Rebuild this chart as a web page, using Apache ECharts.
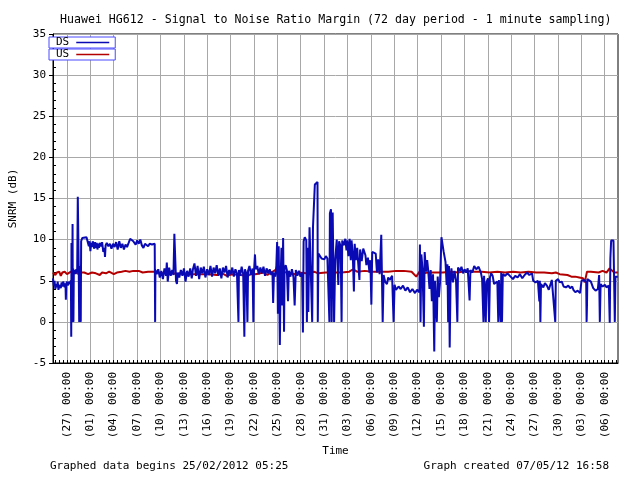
<!DOCTYPE html>
<html>
<head>
<meta charset="utf-8">
<script src="https://cdn.jsdelivr.net/npm/echarts@6/dist/echarts.min.js"></script>
<style>html,body{margin:0;padding:0;background:#fff}#c{width:640px;height:480px}</style>
</head>
<body>
<div id="c"></div>
<script>
// ---- data (day offset from 25/02/2012 05:25, SNRM dB) ----
const titleText = 'Huawei HG612 - Signal to Noise Ratio Margin (72 day period - 1 minute sampling)';
const yTicks = [-5, 0, 5, 10, 15, 20, 25, 30, 35];
const labelTimes = ['2012-02-27 00:00','2012-03-01 00:00','2012-03-04 00:00','2012-03-07 00:00','2012-03-10 00:00','2012-03-13 00:00','2012-03-16 00:00','2012-03-19 00:00','2012-03-22 00:00','2012-03-25 00:00','2012-03-28 00:00','2012-03-31 00:00','2012-04-03 00:00','2012-04-06 00:00','2012-04-09 00:00','2012-04-12 00:00','2012-04-15 00:00','2012-04-18 00:00','2012-04-21 00:00','2012-04-24 00:00','2012-04-27 00:00','2012-04-30 00:00','2012-05-03 00:00','2012-05-06 00:00'];

const dsPoints = [
[0.0,5.3],[0.1,4.4],[0.2,5.0],[0.3,4.0],[0.4,4.6],[0.5,4.2],[0.6,4.9],[0.7,3.9],[0.8,4.5],[0.9,4.7],[1.0,4.1],[1.1,4.8],[1.2,4.3],[1.3,4.9],[1.4,4.6],[1.5,4.2],[1.6,4.7],[1.65,2.7],[1.7,4.6],[1.8,4.9],[1.9,4.4],[2.0,4.9],[2.1,4.6],[2.2,4.8],[2.3,5.0],
[2.34,-1.8],[2.37,9.6],[2.42,5.5],[2.46,0],[2.51,11.9],[2.55,0],[2.58,6.5],[2.62,0],[2.67,6.0],[2.8,6.3],[2.9,5.8],[3.0,6.4],[3.1,6.0],[3.18,15.2],[3.24,15.2],[3.3,6.6],[3.36,0],[3.42,6.8],[3.5,6.3],[3.56,0],[3.61,9.8],
[3.75,10.2],[4.0,10.2],[4.3,10.3],[4.52,10.2],[4.6,9.2],[4.7,9.8],[4.8,8.6],[4.9,9.6],[5.0,9.1],[5.1,9.8],[5.2,9.3],[5.3,8.9],[5.4,9.7],[5.5,9.0],[5.6,9.6],[5.7,8.8],[5.8,9.5],[5.9,9.0],[6.0,9.6],[6.2,9.2],[6.3,9.7],[6.45,8.5],[6.6,9.0],[6.67,7.9],[6.75,9.3],[6.9,9.6],[7.1,9.2],[7.3,9.5],[7.5,8.9],[7.7,9.5],[7.9,9.1],[8.1,9.7],[8.3,8.8],[8.5,9.8],[8.7,9.0],[8.9,9.5],[9.1,8.8],[9.3,9.4],[9.5,9.1],[9.7,9.6],[9.9,10.1],[10.1,10.2],[10.3,9.8],[10.5,10.0],[10.6,9.4],[10.8,9.9],[11.0,9.5],[11.2,10.0],[11.4,9.3],[11.6,9.0],[11.8,9.5],[12.0,9.7],[12.2,9.2],[12.4,9.5],[12.7,9.4],[12.9,9.6],[13.05,9.5],[13.1,0],[13.14,6.3],
[13.3,5.8],[13.5,6.4],[13.7,5.4],[13.9,6.2],[14.1,5.2],[14.3,6.5],[14.5,5.6],[14.6,7.2],[14.72,4.9],[14.9,6.6],[15.1,5.6],[15.3,6.3],[15.45,5.7],[15.57,10.7],[15.68,10.7],[15.78,5.0],[15.9,4.6],[16.0,6.0],[16.2,5.4],[16.4,6.3],[16.6,5.6],[16.8,6.5],[17.0,4.9],[17.2,6.2],[17.4,5.5],[17.6,6.5],[17.8,5.3],[17.95,6.4],
[18.15,7.1],[18.35,5.6],[18.55,6.8],[18.75,5.2],[18.95,6.6],[19.15,5.9],[19.35,6.7],[19.55,5.4],[19.77,6.4],[20.0,5.7],[20.2,6.8],[20.4,5.5],[20.6,6.6],[20.8,5.9],[21.0,6.9],[21.2,5.6],[21.4,6.5],[21.6,5.3],[21.8,6.6],[22.0,6.0],[22.2,6.8],[22.4,5.4],[22.6,6.3],[22.8,5.8],[23.0,6.6],[23.2,5.5],[23.4,6.4],[23.6,5.9],[23.79,0],[23.85,6.3],[24.0,5.6],[24.2,6.7],[24.4,5.8],[24.55,-1.8],[24.62,6.4],[24.8,5.9],[24.94,0],[25.02,6.2],[25.2,6.8],[25.4,5.7],[25.6,6.5],[25.7,0],[25.78,6.0],[25.91,8.2],[26.0,6.4],[26.2,6.8],[26.4,5.8],[26.6,6.6],[26.8,5.9],[27.0,6.7],[27.2,5.6],[27.4,6.5],[27.6,5.9],[27.8,6.4],[28.0,5.7],[28.15,6.1],[28.24,2.3],[28.35,6.0],[28.5,5.5],[28.65,6.8],[28.75,9.7],[28.85,1.0],[28.95,9.2],[29.1,-2.8],[29.2,5.5],[29.31,9.0],[29.4,2.0],[29.52,10.2],[29.64,-1.2],[29.7,6.4],[29.85,6.9],[30.0,6.3],[30.15,2.5],[30.25,6.2],[30.45,5.5],[30.65,6.4],[30.85,5.4],[31.0,2.0],[31.15,6.3],[31.35,5.6],[31.55,6.2],[31.75,5.5],[31.95,6.0],
[32.06,-1.3],[32.15,9.8],[32.3,10.3],[32.49,9.9],[32.57,0],[32.65,9.0],[32.75,1.2],[32.91,11.5],[33.13,11.7],[33.25,0],[33.35,11.5],[33.59,16.7],[33.75,16.9],[33.93,17.0],[33.97,0],[34.05,8.3],[34.25,8.0],[34.45,7.7],[34.61,7.8],[34.8,7.6],[35.0,8.0],[35.2,7.7],[35.4,7.9],[35.46,0],[35.52,13.2],[35.66,13.7],[35.75,0],[35.8,10.9],[35.88,13.3],[36.06,0],
[36.2,7.5],[36.4,10.0],[36.6,4.5],[36.7,9.8],[36.9,9.2],[37.02,0],[37.1,9.9],[37.3,9.3],[37.5,10.1],[37.65,8.7],[37.74,9.9],[37.9,8.0],[38.05,10.1],[38.2,7.5],[38.3,9.9],[38.45,8.3],[38.6,3.7],[38.7,9.5],[38.85,7.5],[39.02,9.0],[39.15,7.2],[39.31,5.1],[39.4,8.8],[39.6,7.4],[39.8,8.9],[40.08,8.1],[40.2,6.9],[40.4,7.8],[40.6,6.0],[40.71,7.5],[40.84,2.1],[40.95,8.5],[41.2,8.7],[41.4,8.3],[41.56,6.0],[41.7,7.6],[41.9,5.8],[42.11,10.6],[42.2,10.6],[42.29,0],[42.41,5.7],[42.6,4.9],[42.84,4.6],[43.0,5.4],[43.2,5.1],[43.5,5.6],[43.69,0],[43.82,4.5],[44.0,3.9],[44.33,4.3],[44.6,4.0],[44.9,4.4],[45.2,3.8],[45.5,4.2],[45.8,3.6],[46.1,4.0],[46.44,3.5],[46.7,3.9],[47.0,3.6],[47.07,9.4],[47.15,0],[47.25,8.2],[47.4,6.5],[47.58,-0.6],[47.68,8.5],[47.85,6.1],[48.0,7.5],[48.14,6.2],
[48.3,4.0],[48.45,6.3],[48.6,2.5],[48.75,5.8],[48.91,-3.6],[49.0,5.0],[49.1,2.8],[49.24,0],[49.35,5.5],[49.5,3.0],[49.65,4.8],[49.83,10.3],[49.95,10.3],[50.1,8.6],[50.25,8.4],[50.35,7.3],[50.5,4.5],[50.6,7.0],[50.69,0],[50.8,6.8],[50.89,-3.1],[51.0,5.0],[51.11,6.5],[51.3,4.8],[51.5,6.2],[51.7,5.0],[51.87,0],[51.96,6.6],[52.2,6.2],[52.4,6.7],[52.6,5.9],[52.8,6.4],[53.0,6.0],[53.2,6.5],[53.44,2.6],[53.55,6.3],[53.8,6.0],[54.03,6.8],
[54.3,6.4],[54.6,6.7],[54.89,6.0],[55.05,5.2],[55.22,0],[55.3,5.6],[55.52,0],[55.6,4.8],[55.8,5.3],[55.94,0],[56.05,5.4],[56.2,5.9],[56.4,5.6],[56.58,4.6],[56.8,4.4],[57.0,4.9],[57.12,0],[57.2,5.1],[57.43,0],[57.5,6.0],[57.6,0],[57.7,5.8],[58.0,5.6],[58.3,5.9],[58.7,5.5],[59.0,5.2],[59.3,5.6],[59.6,5.4],[59.9,5.8],[60.2,5.3],[60.5,5.7],[60.81,6.0],[61.1,5.7],[61.45,5.9],[61.6,5.0],[61.9,4.8],[62.2,5.0],[62.39,2.5],[62.45,5.0],[62.52,0],[62.6,4.6],[62.9,4.2],[63.1,4.7],[63.36,4.4],[63.6,3.9],[63.8,3.7],[63.99,5.1],[64.2,5.2],[64.43,0],[64.5,5.0],[64.8,5.2],[65.0,4.8],[65.27,4.9],[65.5,4.3],[65.8,4.2],[66.1,4.4],[66.34,4.1],[66.6,4.3],[66.76,3.9],[67.0,3.6],[67.3,3.8],[67.61,3.5],[67.8,5.0],[68.1,5.1],[68.4,4.8],[68.45,0],[68.5,2.0],[68.55,5.2],[68.8,5.1],[69.0,4.9],[69.3,4.1],[69.6,3.8],[69.9,4.0],[70.06,5.7],[70.15,0],[70.25,4.6],[70.5,4.3],[70.8,4.5],[71.0,4.2],[71.3,4.4],[71.42,-0.1],[71.5,7.7],[71.6,9.9],[71.76,10.1],[71.9,9.9],[71.94,10.1],[72.07,0],[72.15,5.5],[72.45,5.5]
];

const usPoints = [
[0,6.0],[0.3,5.7],[0.5,6.0],[0.8,6.1],[1.0,5.6],[1.2,6.0],[1.5,6.1],[1.8,5.8],[2.0,6.0],[2.3,6.1],[2.7,6.0],[3.0,6.0],[3.3,5.8],[3.6,6.0],[4.0,6.0],[4.5,5.8],[5.0,6.0],[5.5,5.9],[6.0,5.7],[6.3,6.0],[6.8,5.9],[7.2,6.1],[7.8,5.8],[8.2,6.0],[8.8,6.1],[9.3,6.2],[9.8,6.1],[10.3,6.2],[11.0,6.2],[11.5,6.0],[12.2,6.1],[13.0,6.1],[13.5,6.0],[14.0,5.9],[15.0,6.0],[16.0,5.8],[16.5,6.0],[17.5,5.8],[18.2,5.8],[19.0,5.8],[20.0,5.8],[21.0,5.7],[21.7,5.9],[22.3,5.6],[23.0,5.8],[24.0,5.7],[25.0,5.6],[25.5,5.9],[26.0,5.8],[27.0,6.0],[27.5,5.7],[28.5,6.3],[29.0,6.1],[30.0,6.0],[31.0,5.8],[31.5,6.0],[32.5,5.9],[33.5,6.1],[34.0,5.9],[35.0,6.0],[36.0,6.0],[37.0,6.0],[38.0,6.1],[38.5,6.4],[39.0,6.1],[40.0,6.2],[41.0,6.1],[42.0,6.1],[43.0,6.1],[44.0,6.2],[45.0,6.2],[46.0,6.1],[46.6,5.5],[47.0,6.1],[47.6,5.9],[48.0,6.0],[49.0,6.0],[50.0,6.0],[51.0,6.1],[52.0,6.0],[53.0,6.2],[54.0,6.1],[55.0,6.1],[56.0,6.0],[57.0,6.1],[58.0,6.0],[59.0,6.1],[60.0,6.0],[61.0,6.1],[62.0,6.0],[63.0,6.0],[64.0,5.9],[64.5,6.0],[65.0,5.8],[66.0,5.7],[66.5,5.5],[67.0,5.5],[67.5,5.4],[68.0,5.3],[68.2,4.8],[68.3,5.2],[68.5,6.1],[69.0,6.1],[70.0,6.0],[70.5,6.2],[71.0,6.0],[71.4,6.5],[71.6,6.3],[72.0,6.0],[72.45,6.0]
];

// ---- time categories, 5-minute steps ----
const START = Date.UTC(2012, 1, 25, 5, 25);
const END = Date.UTC(2012, 4, 7, 16, 58);
const STEP_MIN = 5;
const pad = n => (n < 10 ? '0' : '') + n;
const fmt = t => { const d = new Date(t); return d.getUTCFullYear() + '-' + pad(d.getUTCMonth() + 1) + '-' + pad(d.getUTCDate()) + ' ' + pad(d.getUTCHours()) + ':' + pad(d.getUTCMinutes()); };
const categories = [];
for (let t = START; t <= END; t += STEP_MIN * 60000) categories.push(fmt(t));
const perDay = 24 * 60 / STEP_MIN;
const toSeries = pts => pts.map(p => [Math.min(categories.length - 1, Math.round(p[0] * perDay)), p[1]]);
const labelSet = new Set(labelTimes);

const FONT = 'DejaVu Sans Mono';
const chart = echarts.init(document.getElementById('c'), null, {renderer: 'canvas'});
chart.setOption({
  animation: false,
  backgroundColor: '#fff',
  textStyle: {fontFamily: FONT, color: '#000'},
  title: {text: titleText, left: 55, top: 9, textStyle: {fontFamily: FONT, fontSize: 11.6, fontWeight: 'normal', color: '#000'}},
  grid: {left: 49, right: 22, top: 34, bottom: 117, show: true, borderColor: '#000', borderWidth: 1, backgroundColor: 'transparent'},
  legend: [
    {data: ['DS'], left: 49, top: 37, orient: 'vertical', align: 'right', icon: 'rect', itemWidth: 33, itemHeight: 1.5, padding: [0, 6, 0, 7], itemGap: 0,
     borderColor: '#4a4aff', borderWidth: 1, backgroundColor: '#fff', borderRadius: 0, selectedMode: false,
     textStyle: {fontFamily: FONT, fontSize: 11, color: '#000', lineHeight: 11, padding: [0, 2, 0, 0]}},
    {data: ['US'], left: 49, top: 49, orient: 'vertical', align: 'right', icon: 'rect', itemWidth: 33, itemHeight: 1.5, padding: [0, 6, 0, 7], itemGap: 0,
     borderColor: '#4a4aff', borderWidth: 1, backgroundColor: '#fff', borderRadius: 0, selectedMode: false,
     textStyle: {fontFamily: FONT, fontSize: 11, color: '#000', lineHeight: 11, padding: [0, 2, 0, 0]}}
  ],
  xAxis: {
    type: 'category', data: categories, boundaryGap: false,
    name: 'Time', nameLocation: 'middle', nameGap: 83,
    nameTextStyle: {fontFamily: FONT, fontSize: 11, color: '#000'},
    axisLine: {show: true, onZero: false, lineStyle: {color: '#000', width: 1}},
    axisTick: {show: true, inside: true, length: 3, lineStyle: {color: '#000'},
      interval: (i, v) => v.endsWith(' 00:00') || v.endsWith(' 12:00')},
    axisLabel: {show: true, rotate: 90, margin: 9, fontFamily: FONT, fontSize: 11, color: '#000',
      interval: (i, v) => labelSet.has(v),
      formatter: v => '(' + v.slice(8, 10) + ') ' + v.slice(11)},
    splitLine: {show: true, lineStyle: {color: '#a8a8a8', width: 1}, interval: (i, v) => labelSet.has(v)}
  },
  yAxis: [
    {type: 'value', min: yTicks[0], max: yTicks[yTicks.length - 1], interval: 5,
     name: 'SNRM (dB)', nameLocation: 'middle', nameGap: 34, nameRotate: 90,
     nameTextStyle: {fontFamily: FONT, fontSize: 11, color: '#000'},
     axisLine: {show: true, onZero: false, lineStyle: {color: '#000'}},
     axisTick: {show: true, length: 4, lineStyle: {color: '#000'}},
     axisLabel: {fontFamily: FONT, fontSize: 11, color: '#000', margin: 7},
     splitLine: {show: true, lineStyle: {color: '#a8a8a8', width: 1}}},
    {type: 'value', min: yTicks[0], max: yTicks[yTicks.length - 1], interval: 5, position: 'left', offset: 0,
     axisLine: {show: false, onZero: false}, axisLabel: {show: false}, splitLine: {show: false},
     axisTick: {show: false, inside: true},
     minorTick: {show: true, splitNumber: 5, length: 3, lineStyle: {color: '#000', width: 1}}}
  ],
  series: [
    {name: 'DS', type: 'line', data: toSeries(dsPoints), showSymbol: false, symbol: 'none',
     lineStyle: {color: '#0a0ab4', width: 2}, itemStyle: {color: '#0a0ab4'}, z: 3},
    {name: 'US', type: 'line', data: toSeries(usPoints), showSymbol: false, symbol: 'none',
     lineStyle: {color: '#b40000', width: 2}, itemStyle: {color: '#b40000'}, z: 2}
  ],
  graphic: [
    {type: 'text', left: 50, top: 461, style: {text: 'Graphed data begins 25/02/2012 05:25', font: '11px "DejaVu Sans Mono"', fill: '#000'}},
    {type: 'text', right: 31, top: 461, style: {text: 'Graph created 07/05/12 16:58', font: '11px "DejaVu Sans Mono"', fill: '#000'}}
  ]
});
</script>
</body>
</html>
